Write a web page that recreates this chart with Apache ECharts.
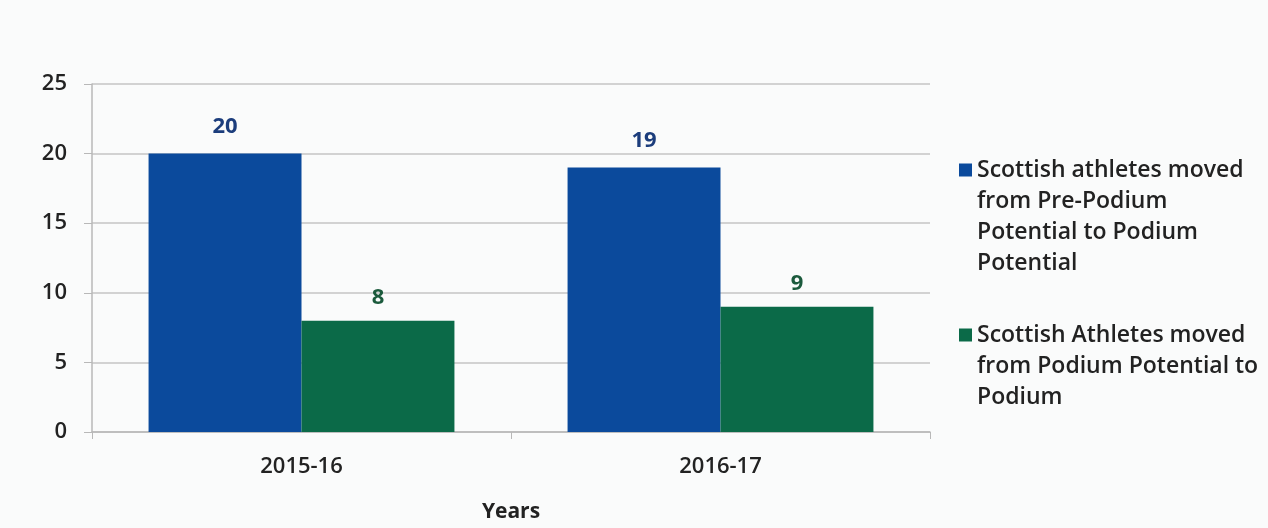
<!DOCTYPE html>
<html>
<head>
<meta charset="utf-8">
<script src="https://cdn.jsdelivr.net/npm/echarts@6/dist/echarts.min.js"></script>
<style>
  html, body { margin: 0; padding: 0; background: #fafbfb; }
  #chart { width: 1268px; height: 528px; }
</style>
</head>
<body>
<div id="chart"></div>
<script>
// Athlete progression by year
const years = ['2015-16', '2016-17'];
const preToPodiumPotential = [20, 19];
const potentialToPodium = [8, 9];
const seriesNames = [
  'Scottish athletes moved from Pre-Podium Potential to Podium Potential',
  'Scottish Athletes moved from Podium Potential to Podium'
];
const legendLines = [
  ['Scottish athletes moved', 'from Pre-Podium', 'Potential to Podium', 'Potential'],
  ['Scottish Athletes moved', 'from Podium Potential to', 'Podium']
];

const BLUE = '#0b4a9c';
const GREEN = '#0b6a48';
const LINE_H = 31;
const FONT = '"Open Sans", "Noto Sans", sans-serif';

// Legend entry whose marker sits beside the first line of a wrapped label:
// blank lines above balance the wrapped lines below, so the centred marker
// lines up with the first line. firstLineY is the centre of that first line.
function legendFor(idx, firstLineY) {
  const lines = legendLines[idx];
  const blanks = lines.length - 1;
  const total = lines.length + blanks;
  return {
    data: [seriesNames[idx]],
    left: 959,
    top: firstLineY - total * LINE_H / 2,
    padding: 0,
    itemWidth: 13,
    itemHeight: 13,
    itemGap: 0,
    selectedMode: false,
    icon: 'rect',
    formatter: () => '\n'.repeat(blanks) + lines.join('\n'),
    textStyle: {
      fontFamily: FONT,
      fontSize: 23,
      fontWeight: 600,
      color: '#222',
      lineHeight: LINE_H
    }
  };
}

const chart = echarts.init(document.getElementById('chart'), null, { renderer: 'canvas' });
chart.setOption({
  backgroundColor: '#fafbfb',
  animation: false,
  grid: { left: 92, right: 338, top: 84, bottom: 95, containLabel: false },
  legend: [legendFor(0, 170), legendFor(1, 335)],
  xAxis: {
    type: 'category',
    data: years,
    name: 'Years',
    nameLocation: 'middle',
    nameGap: 70,
    nameTextStyle: { fontFamily: FONT, fontSize: 21, fontWeight: 'bold', color: '#222' },
    axisLine: { lineStyle: { color: '#b8b8b8', width: 1.5 } },
    axisTick: { show: true, length: 7, lineStyle: { color: '#b8b8b8' } },
    axisLabel: { fontFamily: FONT, fontSize: 22, fontWeight: 600, color: '#222', margin: 24 }
  },
  yAxis: {
    type: 'value',
    min: 0,
    max: 25,
    interval: 5,
    axisLine: { show: true, lineStyle: { color: '#b8b8b8', width: 1.5 } },
    axisTick: { show: true, length: 8, lineStyle: { color: '#b8b8b8' } },
    axisLabel: { fontFamily: FONT, fontSize: 22, fontWeight: 600, color: '#222', margin: 25 },
    splitLine: { lineStyle: { color: '#c4c4c4', width: 1.5 } }
  },
  series: [
    {
      name: seriesNames[0],
      type: 'bar',
      data: preToPodiumPotential,
      barGap: 0,
      barCategoryGap: '27%',
      itemStyle: { color: BLUE },
      label: {
        show: true, position: 'top', distance: 16,
        fontFamily: FONT, fontSize: 22, fontWeight: 'bold', color: '#1c3d7c'
      }
    },
    {
      name: seriesNames[1],
      type: 'bar',
      data: potentialToPodium,
      barGap: 0,
      barCategoryGap: '27%',
      itemStyle: { color: GREEN },
      label: {
        show: true, position: 'top', distance: 12,
        fontFamily: FONT, fontSize: 22, fontWeight: 'bold', color: '#1b5a3c'
      }
    }
  ]
});
</script>
</body>
</html>
